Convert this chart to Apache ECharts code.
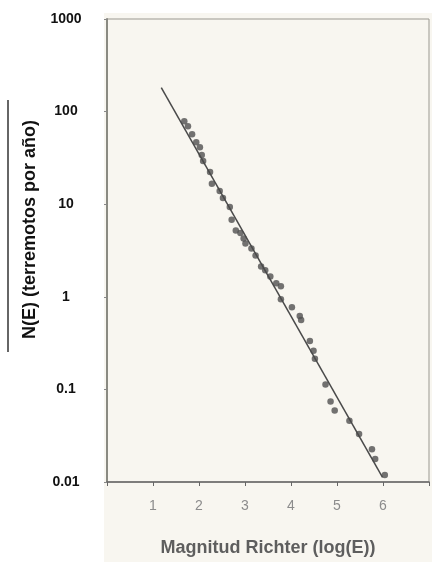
<!DOCTYPE html>
<html>
<head>
<meta charset="utf-8">
<script src="https://cdn.jsdelivr.net/npm/echarts@6/dist/echarts.min.js"></script>
<style>
  html, body { margin: 0; padding: 0; background: #fff; }
  #main { width: 432px; height: 562px; }
</style>
</head>
<body>
<div id="main"></div>
<script>
// magnitud (log E) y N(E)
var magX = [1.68, 1.76, 1.85, 1.94, 2.02, 2.06, 2.09, 2.24, 2.28, 2.45,
  2.52, 2.67, 2.71, 2.80, 2.90, 2.97, 3.01, 3.14, 3.23, 3.35,
  3.44, 3.55, 3.68, 3.78, 3.78, 4.02, 4.19, 4.22, 4.41, 4.49,
  4.52, 4.75, 4.86, 4.95, 5.27, 5.48, 5.76, 5.83, 6.04];
var nY = [78.5, 69.4, 56.9, 46.7, 41.3, 33.9, 29.2, 22.3, 16.6, 13.9,
  11.7, 9.3, 6.8, 5.2, 4.9, 4.26, 3.76, 3.32, 2.79, 2.13,
  1.93, 1.66, 1.40, 1.30, 0.94, 0.77, 0.62, 0.56, 0.334, 0.261,
  0.214, 0.113, 0.074, 0.059, 0.046, 0.033, 0.0226, 0.0177, 0.0119];

// recta de ajuste
var fitX = [1.18, 5.99];
var fitY = [182, 0.0112];

var xTickLabels = ['', '1', '2', '3', '4', '5', '6', ''];
var yTickLabels = ['0.01', '0.1', '1', '10', '100', '1000'];

setTimeout(() => {
  var chartDom = document.getElementById('main');
  var myChart = echarts.init(chartDom);
  var option = {
    backgroundColor: '#ffffff',
    textStyle: { fontFamily: 'Liberation Sans, Arial, sans-serif' },
    graphic: [
      {
        type: 'rect',
        z: -10,
        shape: { x: 104, y: 13, width: 328, height: 549 },
        style: { fill: '#f8f6f0' },
      },
      {
        type: 'line',
        shape: { x1: 8, y1: 100, x2: 8, y2: 352 },
        style: { stroke: '#333', lineWidth: 1.5 },
      },
    ],
    grid: {
      left: 107,
      top: 19,
      right: 1,
      bottom: 77,
      show: true,
      backgroundColor: '#f8f6f0',
      borderColor: '#9a9890',
      borderWidth: 1,
    },
    xAxis: {
      type: 'value',
      min: 0,
      max: 7,
      interval: 1,
      name: 'Magnitud Richter (log(E))',
      nameLocation: 'middle',
      nameGap: 57,
      nameTextStyle: { color: '#5e5e5e', fontSize: 18, fontWeight: 'bold' },
      splitLine: { show: false },
      axisLine: { show: true, onZero: false, lineStyle: { color: '#666', width: 1.5 } },
      axisTick: { show: true, length: 4, lineStyle: { color: '#666' } },
      axisLabel: {
        color: '#8c8c8c',
        fontSize: 14,
        margin: 17,
        formatter: (v) => xTickLabels[Math.round(v)] || '',
      },
    },
    yAxis: {
      type: 'log',
      logBase: 10,
      min: 0.01,
      max: 1000,
      name: 'N(E) (terremotos por año)',
      nameLocation: 'middle',
      nameGap: 61,
      nameTextStyle: {
        color: '#111',
        fontSize: 18,
        fontWeight: 'bold',
        padding: [0, 0, 0, 42],
      },
      splitLine: { show: false },
      axisLine: { show: true, lineStyle: { color: '#8a8a82', width: 2 } },
      axisTick: { show: true, length: 3, lineStyle: { color: '#888' } },
      axisLabel: {
        color: '#111',
        fontSize: 14,
        fontWeight: 'bold',
        align: 'center',
        margin: 41,
        formatter: (v) => yTickLabels[Math.round(Math.log10(v)) + 2] || '',
      },
    },
    series: [
      {
        type: 'line',
        data: fitX.map((x, i) => [x, fitY[i]]),
        showSymbol: false,
        lineStyle: { color: '#4a4a4a', width: 1.5 },
        silent: true,
      },
      {
        type: 'scatter',
        data: magX.map((x, i) => [x, nY[i]]),
        symbolSize: 6.5,
        itemStyle: { color: '#505050' },
      },
    ],
    animation: false,
  };

  option && myChart.setOption(option);

  window.onresize = function () {
    myChart.resize();
  };
}, 1);
</script>
</body>
</html>
